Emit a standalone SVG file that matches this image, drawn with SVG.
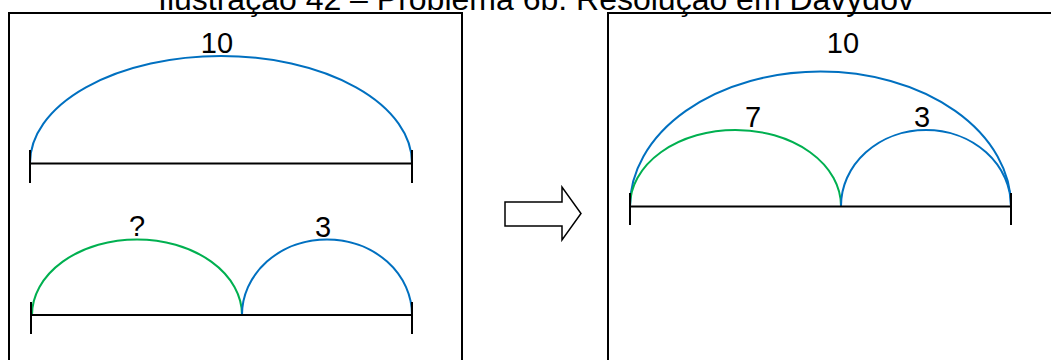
<svg xmlns="http://www.w3.org/2000/svg" width="1051" height="360" viewBox="0 0 1051 360">
<style>
.t{font-family:"Liberation Sans",Arial,sans-serif;fill:#000}
.lbl{font-size:29px;text-anchor:middle}
.box{fill:none;stroke:#000;stroke-width:2}
.seg{fill:none;stroke:#000;stroke-width:2}
.blue{fill:none;stroke:#0070C0;stroke-width:2}
.green{fill:none;stroke:#00B050;stroke-width:2}
</style>
<rect width="1051" height="360" fill="#fff"/>
<text class="t" x="158" y="10" font-size="32">Ilustração 42 – Problema 6b: Resolução em Davydov</text>
<g id="left-panel">
<rect class="box" x="9" y="13" width="453" height="360"/>
<g id="whole-10">
<path class="blue" d="M30,163 A191,107 0 0 1 412,163"/>
<path class="seg" d="M30,163.5 H412 M30,150 V183 M412,150 V183"/>
<text class="t lbl" x="217" y="53">10</text>
</g>
<g id="parts-q-3">
<path class="green" d="M32,315 A105,75.5 0 0 1 242,315"/>
<path class="blue" d="M242,315 A85,75.5 0 0 1 412,315"/>
<path class="seg" d="M31,315 H412 M31,302 V334 M412,302 V334"/>
<text class="t lbl" x="137" y="236">?</text>
<text class="t lbl" x="323" y="237">3</text>
</g>
</g>
<g id="arrow">
<polygon points="505,202 562,202 562,187 581,213.5 562,240 562,226 505,226" fill="#fff" stroke="#000" stroke-width="1.5"/>
</g>
<g id="right-panel">
<rect class="box" x="608" y="13" width="460" height="360"/>
<path class="blue" d="M630,206 A190.5,134.5 0 0 1 1011,206"/>
<path class="green" d="M630,206 A105.5,76 0 0 1 841,206"/>
<path class="blue" d="M841,206 A85,76 0 0 1 1011,206"/>
<path class="seg" d="M630,206.5 H1011 M630,193 V225 M1011,193 V225"/>
<text class="t lbl" x="843" y="53">10</text>
<text class="t lbl" x="753" y="127">7</text>
<text class="t lbl" x="922" y="127">3</text>
</g>
</svg>
